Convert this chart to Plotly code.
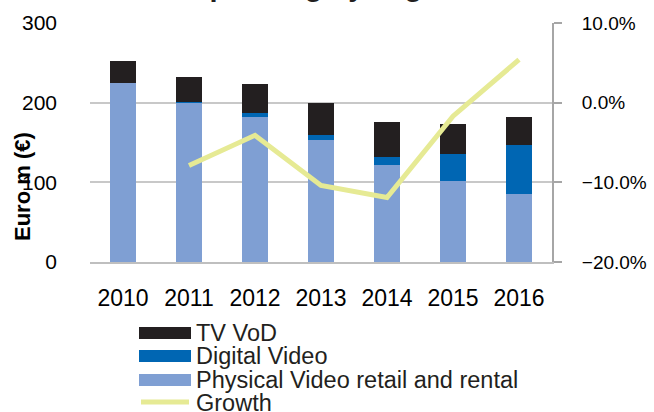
import plotly.graph_objects as go

years = ["2010", "2011", "2012", "2013", "2014", "2015", "2016"]
physical = [225, 200, 182, 153, 122, 102, 85]
digital = [0, 1, 5, 7, 10, 34, 62]
tv_vod = [27, 31, 36, 40, 44, 37, 35]
growth_years = ["2011", "2012", "2013", "2014", "2015", "2016"]
growth = [-0.079, -0.041, -0.104, -0.119, -0.017, 0.054]

names = ["TV VoD", "Digital Video", "Physical Video retail and rental", "Growth"]
colors = ["#231f20", "#0066b3", "#7f9fd3", "#e6ea94"]

# plot area in pixels
L, R, T, B = 90, 552, 23, 262
W, H = 654, 412


def px(x):
    return (x - L) / (R - L)


def py(y):
    return (B - y) / (B - T)


fig = go.Figure()
fig.add_trace(go.Bar(x=years, y=physical, name=names[2], marker_color=colors[2],
                     marker_line_width=0, showlegend=False))
fig.add_trace(go.Bar(x=years, y=digital, name=names[1], marker_color=colors[1],
                     marker_line_width=0, showlegend=False))
fig.add_trace(go.Bar(x=years, y=tv_vod, name=names[0], marker_color=colors[0],
                     marker_line_width=0, showlegend=False))
fig.add_trace(go.Scatter(x=growth_years, y=growth, name=names[3], mode="lines",
                         line=dict(color=colors[3], width=5), yaxis="y2",
                         showlegend=False))

font = "Liberation Sans, Arial, sans-serif"

annotations = []
shapes = []
# title (cut off at top as in reference)
annotations.append(dict(text="<b>Video spending by segment</b>", xref="paper", yref="paper",
                        x=px(494), y=py(4), xanchor="right", yanchor="bottom",
                        showarrow=False, font=dict(family=font, size=29, color="#231f20")))
# y axis title
annotations.append(dict(text="<b>Euro m (€)</b>", xref="paper", yref="paper",
                        x=px(22), y=py(187), xanchor="center", yanchor="middle",
                        textangle=-90, showarrow=False,
                        font=dict(family=font, size=22, color="#000000")))

# manual legend
leg_rows = [(names[0], colors[0], 333), (names[1], colors[1], 356),
            (names[2], colors[2], 380), (names[3], colors[3], 403)]
for i, (nm, col, yc) in enumerate(leg_rows):
    if i < 3:
        shapes.append(dict(type="rect", xref="paper", yref="paper",
                           x0=px(139), x1=px(191), y0=py(yc - 6), y1=py(yc + 6),
                           fillcolor=col, line_width=0))
    else:
        shapes.append(dict(type="line", xref="paper", yref="paper",
                           x0=px(141), x1=px(189), y0=py(yc - 1), y1=py(yc - 1),
                           line=dict(color=col, width=5)))
    annotations.append(dict(text=nm, xref="paper", yref="paper", x=px(194), y=py(yc),
                            xanchor="left", yanchor="middle", showarrow=False,
                            font=dict(family=font, size=23.5, color="#231f20")))

fig.update_layout(
    width=W, height=H,
    margin=dict(l=L, r=W - R, t=T, b=H - B, pad=0, autoexpand=False),
    paper_bgcolor="white", plot_bgcolor="white",
    barmode="stack", bargap=0.606,
    showlegend=False,
    font=dict(family=font, size=21, color="#000000"),
    xaxis=dict(range=[-0.5, 6.5], showgrid=False, showline=True, linecolor="#bfbfbf",
               linewidth=2, ticks="", tickfont=dict(size=23), ticklabelstandoff=14,
               automargin=False),
    yaxis=dict(range=[0, 300], dtick=100, showgrid=True, gridcolor="#c8c8c8", gridwidth=2,
               showline=False, zeroline=False, ticks="", tickfont=dict(size=21),
               ticklabelstandoff=32, automargin=False),
    yaxis2=dict(range=[-0.2, 0.1], dtick=0.1, tickformat=".1%", overlaying="y", side="right",
                showgrid=False, zeroline=False, showline=True, linecolor="#a6a6a6",
                linewidth=2, ticks="outside", ticklen=8, tickcolor="#a6a6a6", tickwidth=2,
                tickfont=dict(size=19), ticklabelstandoff=16, automargin=False),
    annotations=annotations,
    shapes=shapes,
)

fig.write_html("out.html")
